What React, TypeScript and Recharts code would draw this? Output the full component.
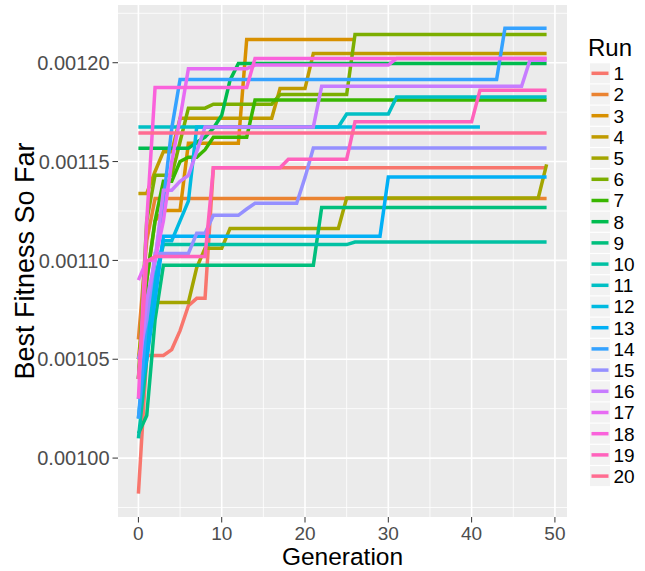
import { LineChart, Line, XAxis, YAxis, CartesianGrid } from "recharts";

// ggplot2 hue palette, 20 levels
const RUN_COLORS = [
  "#F8766D", "#EA8331", "#D89000", "#C09B00", "#A3A500",
  "#7CAE00", "#39B600", "#00BB4E", "#00BF7D", "#00C1A3",
  "#00BFC4", "#00BAE0", "#00B0F6", "#35A2FF", "#9590FF",
  "#C77CFF", "#E76BF3", "#FA62DB", "#FF62BC", "#FF6C91",
];

const RUN_NAMES = RUN_COLORS.map((_, i) => String(i + 1));

// last generation recorded for each run
const RUN_LAST_GEN = [49, 49, 26, 49, 49, 49, 49, 49, 49, 49, 49, 41, 49, 49, 49, 49, 49, 49, 49, 49];

// [generation, best fitness] at every generation where the best value changed
const run1 = [[0, 0.000982], [1, 0.0010519], [4, 0.0010549], [5, 0.0010645], [6, 0.0010771], [7, 0.0010808], [9, 0.0011469]];
const run2 = [[0, 0.00106], [1, 0.00111], [2, 0.0011313]];
const run3 = [[0, 0.00105], [1, 0.00109], [2, 0.00112], [3, 0.0011253], [6, 0.0011593], [13, 0.0012118]];
const run4 = [[0, 0.0011339], [2, 0.001145], [3, 0.001155], [5, 0.0011719], [17, 0.001187], [21, 0.0012047]];
const run5 = [[0, 0.00105], [1, 0.00107], [2, 0.0010787], [7, 0.0010964], [8, 0.0011061], [11, 0.0011162], [25, 0.0011316], [49, 0.0011486]];
const run6 = [[0, 0.00104], [1, 0.00112], [2, 0.0011431], [5, 0.00116], [6, 0.001177], [9, 0.001179], [17, 0.0011839], [26, 0.0012143]];
const run7 = [[0, 0.00104], [1, 0.00109], [2, 0.00112], [3, 0.00114], [5, 0.00115], [6, 0.0011522], [8, 0.001156], [9, 0.0011623], [14, 0.0011811]];
const run8 = [[0, 0.0011567], [7, 0.0011598], [8, 0.0011623], [9, 0.0011669], [10, 0.0011734], [11, 0.0011912], [12, 0.0011996]];
const run9 = [[0, 0.0010124], [1, 0.0010215], [2, 0.00107], [3, 0.0010975], [22, 0.0011268]];
const run10 = [[0, 0.00101], [1, 0.00105], [2, 0.00109], [3, 0.001108], [26, 0.0011093]];
const run11 = [[0, 0.0011675], [25, 0.001174], [31, 0.0011827]];
const run12 = [[0, 0.00102], [1, 0.00106], [2, 0.00109], [3, 0.00111], [5, 0.00112], [6, 0.00113], [7, 0.0011675]];
const run13 = [[0, 0.00103], [1, 0.00105], [2, 0.00108], [3, 0.0011122], [30, 0.0011422]];
const run14 = [[0, 0.00102], [1, 0.00107], [2, 0.0011], [3, 0.00113], [4, 0.0011668], [5, 0.0011915], [44, 0.0012174]];
const run15 = [[0, 0.00105], [1, 0.00107], [2, 0.0011035], [7, 0.0011137], [9, 0.0011228], [13, 0.001126], [14, 0.0011289], [20, 0.001142], [21, 0.0011569]];
const run16 = [[0, 0.00104], [1, 0.00108], [2, 0.0011], [3, 0.0011355], [5, 0.00114], [6, 0.001143], [7, 0.001155], [8, 0.0011675], [22, 0.0011881], [47, 0.0012013]];
const run17 = [[0, 0.00109], [1, 0.0011], [3, 0.00112], [4, 0.00115], [5, 0.0011719], [6, 0.001197], [14, 0.0011988], [31, 0.0012022]];
const run18 = [[0, 0.00103], [1, 0.00112], [2, 0.0011875], [14, 0.0012022]];
const run19 = [[0, 0.00104], [1, 0.0010994], [2, 0.001102], [9, 0.0011469], [18, 0.0011512], [26, 0.0011701], [41, 0.0011861]];
const run20 = [[0, 0.0011645]];

const RUN_STEPS = [run1, run2, run3, run4, run5, run6, run7, run8, run9, run10,
  run11, run12, run13, run14, run15, run16, run17, run18, run19, run20];

const X_TICKS = [0, 10, 20, 30, 40, 50];
const X_MINOR = [5, 15, 25, 35, 45];
const Y_TICKS = [0.001, 0.00105, 0.0011, 0.00115, 0.0012];
const Y_MINOR = [0.000975, 0.001025, 0.001075, 0.001125, 0.001175, 0.001225];

// best-so-far is held until the next improvement
function bestSoFar(steps: number[][], lastGen: number) {
  const out: { gen: number; fitness: number }[] = [];
  let k = 0;
  let best = steps[0][1];
  for (let g = 0; g <= lastGen; g++) {
    if (k < steps.length && steps[k][0] === g) {
      best = steps[k][1];
      k++;
    }
    out.push({ gen: g, fitness: best });
  }
  return out;
}

const series = RUN_STEPS.map((s, i) => bestSoFar(s, RUN_LAST_GEN[i]));

const FONT = "'Liberation Sans', Arial, sans-serif";

function RunLegend() {
  return (
    <svg width={62} height={500} style={{ position: "absolute", left: 583, top: 0 }}>
      <text x={5} y={56} fontSize={24} fill="#000" fontFamily={FONT}>Run</text>
      {RUN_NAMES.map((name, i) => {
        const cy = 73.3 + 21.2 * i;
        return (
          <g key={name}>
            <rect x={7} y={cy - 10} width={20} height={20} fill="#F2F2F2" />
            <line x1={8.5} x2={25.5} y1={cy} y2={cy} stroke={RUN_COLORS[i]} strokeWidth={3.5} />
            <text x={30.5} y={cy} dy="0.36em" fontSize={19} fill="#000" fontFamily={FONT}>{name}</text>
          </g>
        );
      })}
    </svg>
  );
}

export default function App() {
  return (
    <div style={{ position: "absolute", left: 0, top: 0, width: 645, height: 571, background: "#fff", fontFamily: FONT }}>
      <LineChart width={645} height={571} margin={{ top: 5, right: 78, bottom: 0, left: 0 }}>
        <CartesianGrid fill="#EBEBEB" stroke="#fff" strokeWidth={0.8}
          horizontalValues={Y_MINOR} verticalValues={X_MINOR} />
        <CartesianGrid stroke="#fff" strokeWidth={1.6}
          horizontalValues={Y_TICKS} verticalValues={X_TICKS} />
        <XAxis dataKey="gen" type="number" domain={[-2.45, 51.45]} ticks={X_TICKS}
          allowDataOverflow height={54} tickSize={5.5} tickMargin={4}
          axisLine={false} tickLine={{ stroke: "#333" }}
          tick={{ fill: "#4D4D4D", fontSize: 19, fontFamily: FONT }}
          label={{ value: "Generation", position: "insideBottom", offset: 6, fill: "#000", fontSize: 24.5, fontFamily: FONT }} />
        <YAxis dataKey="fitness" type="number" domain={[0.0009702, 0.0012292]} ticks={Y_TICKS}
          allowDataOverflow width={118} tickSize={5.5} tickMargin={3}
          axisLine={false} tickLine={{ stroke: "#333" }}
          tickFormatter={(v: number) => v.toFixed(5)}
          tick={{ fill: "#4D4D4D", fontSize: 20, fontFamily: FONT }}
          label={{ value: "Best Fitness So Far", angle: -90, position: "insideLeft", offset: 24,
            fill: "#000", fontSize: 27, fontFamily: FONT, style: { textAnchor: "middle" } }} />
        {series.map((data, i) => (
          <Line key={RUN_NAMES[i]} data={data} dataKey="fitness" name={RUN_NAMES[i]}
            type="linear" stroke={RUN_COLORS[i]} strokeWidth={3.5} dot={false}
            isAnimationActive={false} />
        ))}
      </LineChart>
      <RunLegend />
    </div>
  );
}
